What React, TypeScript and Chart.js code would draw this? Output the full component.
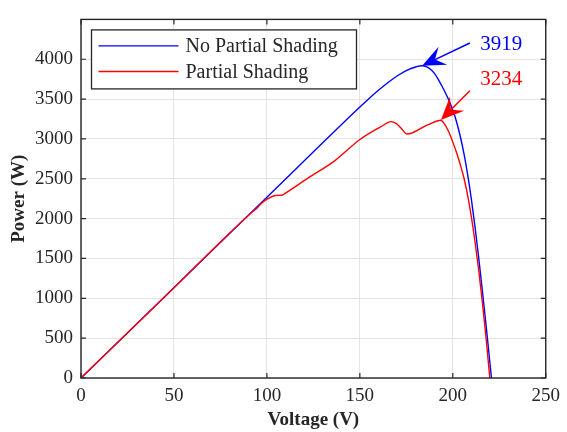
import React, { useEffect, useRef } from 'react';
import { Chart, registerables } from 'chart.js';

Chart.register(...registerables);

// ---- data ----
const seriesLabels = ['No Partial Shading', 'Partial Shading'];
const seriesColors = ['#0000ff', '#ff0000'];

const noShadeV = [0, 50, 100, 150, 155, 160, 165, 170, 175, 180, 183.5, 186, 188, 190, 192, 194, 196, 198, 200, 202, 204, 206, 208, 210, 212, 214, 216, 218, 220.8];
const noShadeP = [0, 1134, 2268, 3400, 3508, 3610, 3705, 3790, 3858, 3903, 3919, 3905, 3875, 3825, 3755, 3670, 3580, 3480, 3362, 3216, 3034, 2815, 2551, 2241, 1886, 1494, 1075, 638, 0];

const shadeV = [0, 50, 90, 95, 97.4, 100.5, 104.5, 108.1, 110, 122.3, 136.6, 150, 161.5, 166.8, 169.5, 172.2, 175.4, 186.4, 193.6, 195, 196.5, 198, 200, 202, 204, 206, 208, 210, 212, 214, 216, 218, 219.9];
const shadeP = [0, 1134, 2040, 2140, 2198, 2250, 2291, 2293, 2320, 2511, 2728, 2993, 3156, 3217, 3196, 3135, 3062, 3176, 3234, 3205, 3150, 3080, 2960, 2830, 2680, 2510, 2290, 2020, 1700, 1340, 930, 480, 0];

const xTicks = [0, 50, 100, 150, 200, 250];
const yTicks = [0, 500, 1000, 1500, 2000, 2500, 3000, 3500, 4000];
const xRange = [0, 250];
const yRange = [0, 4500];

// peak annotations
const peakLabels = ['3919', '3234'];
const peakTipV = [183.5, 193.6];
const peakTipP = [3919, 3238];
const arrowTailV = [209.2, 209.2];
const arrowTailP = [4204, 3605];
const labelV = [214.7, 214.7];
const labelP = [4183, 3743];

const FONT = "'Liberation Serif', 'Times New Roman', serif";
const AXIS_COLOR = '#262626';

function drawArrow(ctx: CanvasRenderingContext2D, x0: number, y0: number, x1: number, y1: number, color: string) {
  const dx = x0 - x1;
  const dy = y0 - y1;
  const len = Math.hypot(dx, dy);
  const ux = dx / len;
  const uy = dy / len;
  const nx = -uy;
  const ny = ux;
  const L = 23;
  const W = 10;
  const notch = 0.62 * L;
  ctx.save();
  ctx.strokeStyle = color;
  ctx.fillStyle = color;
  ctx.lineWidth = 1.5;
  ctx.beginPath();
  ctx.moveTo(x0, y0);
  ctx.lineTo(x1 + ux * notch, y1 + uy * notch);
  ctx.stroke();
  ctx.beginPath();
  ctx.moveTo(x1, y1);
  ctx.lineTo(x1 + ux * L + nx * W, y1 + uy * L + ny * W);
  ctx.lineTo(x1 + ux * notch, y1 + uy * notch);
  ctx.lineTo(x1 + ux * L - nx * W, y1 + uy * L - ny * W);
  ctx.closePath();
  ctx.fill();
  ctx.restore();
}

const overlayPlugin = {
  id: 'overlay',
  afterDraw(chart: any) {
    const { ctx, chartArea } = chart;
    const xs = chart.scales.x;
    const ys = chart.scales.y;
    const { left, right, top, bottom } = chartArea;

    // frame
    ctx.save();
    ctx.strokeStyle = AXIS_COLOR;
    ctx.lineWidth = 1.4;
    ctx.strokeRect(left, top, right - left, bottom - top);
    // inward ticks
    const tl = 5;
    ctx.lineWidth = 1.2;
    ctx.beginPath();
    xTicks.forEach((v) => {
      const px = xs.getPixelForValue(v);
      ctx.moveTo(px, bottom);
      ctx.lineTo(px, bottom - tl);
      ctx.moveTo(px, top);
      ctx.lineTo(px, top + tl);
    });
    yTicks.forEach((v) => {
      const py = ys.getPixelForValue(v);
      ctx.moveTo(left, py);
      ctx.lineTo(left + tl, py);
      ctx.moveTo(right, py);
      ctx.lineTo(right - tl, py);
    });
    ctx.stroke();
    ctx.restore();

    // arrows & labels
    peakLabels.forEach((lab, i) => {
      const color = seriesColors[i];
      drawArrow(
        ctx,
        xs.getPixelForValue(arrowTailV[i]),
        ys.getPixelForValue(arrowTailP[i]),
        xs.getPixelForValue(peakTipV[i]),
        ys.getPixelForValue(peakTipP[i]),
        color
      );
      ctx.save();
      ctx.fillStyle = color;
      ctx.font = `21px ${FONT}`;
      ctx.textAlign = 'left';
      ctx.textBaseline = 'middle';
      ctx.fillText(lab, xs.getPixelForValue(labelV[i]), ys.getPixelForValue(labelP[i]));
      ctx.restore();
    });

    // legend
    const bx = left + 10.5;
    const by = top + 10.5;
    const bw = 265;
    const bh = 59;
    ctx.save();
    ctx.fillStyle = '#ffffff';
    ctx.fillRect(bx, by, bw, bh);
    ctx.strokeStyle = AXIS_COLOR;
    ctx.lineWidth = 1.3;
    ctx.strokeRect(bx, by, bw, bh);
    ctx.font = `20px ${FONT}`;
    ctx.textAlign = 'left';
    ctx.textBaseline = 'middle';
    chart.data.datasets.forEach((ds: any, i: number) => {
      const ly = by + 16 + i * 25.6;
      ctx.strokeStyle = ds.borderColor;
      ctx.lineWidth = 1.3;
      ctx.beginPath();
      ctx.moveTo(bx + 7, ly);
      ctx.lineTo(bx + 87, ly);
      ctx.stroke();
      ctx.fillStyle = AXIS_COLOR;
      ctx.fillText(ds.label, bx + 94, ly + 1);
    });
    ctx.restore();
  },
};

export default function App() {
  const ref = useRef<HTMLCanvasElement | null>(null);

  useEffect(() => {
    document.body.style.margin = '0';
    const canvas = ref.current;
    if (!canvas) return;
    const chart = new Chart(canvas, {
      type: 'scatter',
      data: {
        datasets: [
          {
            label: seriesLabels[0],
            data: noShadeV.map((v, i) => ({ x: v, y: noShadeP[i] })),
            borderColor: seriesColors[0],
            backgroundColor: seriesColors[0],
            showLine: true,
            pointRadius: 0,
            borderWidth: 1.4,
            cubicInterpolationMode: 'monotone',
            order: 1,
          },
          {
            label: seriesLabels[1],
            data: shadeV.map((v, i) => ({ x: v, y: shadeP[i] })),
            borderColor: seriesColors[1],
            backgroundColor: seriesColors[1],
            showLine: true,
            pointRadius: 0,
            borderWidth: 1.4,
            cubicInterpolationMode: 'monotone',
            order: 0,
          },
        ],
      },
      options: {
        responsive: false,
        animation: false,
        layout: { padding: { top: 11, right: 18, left: 0, bottom: 0 } },
        plugins: {
          legend: { display: false },
          tooltip: { enabled: false },
        },
        scales: {
          x: {
            type: 'linear',
            min: xRange[0],
            max: xRange[1],
            afterBuildTicks: (scale: any) => {
              scale.ticks = xTicks.map((v) => ({ value: v }));
            },
            afterFit: (scale: any) => {
              scale.height = 54;
            },
            grid: { color: '#e3e3e3', lineWidth: 1, drawTicks: false },
            border: { display: false },
            ticks: {
              padding: 7,
              color: AXIS_COLOR,
              font: { family: FONT, size: 19 },
              maxRotation: 0,
              callback: (v: any) => String(v),
            },
            title: {
              display: true,
              text: 'Voltage (V)',
              color: AXIS_COLOR,
              font: { family: FONT, size: 19, weight: 'bold' },
              padding: { top: 0, bottom: 1 },
            },
          },
          y: {
            type: 'linear',
            min: yRange[0],
            max: yRange[1],
            afterBuildTicks: (scale: any) => {
              scale.ticks = yTicks.map((v) => ({ value: v }));
            },
            afterFit: (scale: any) => {
              scale.width = 81;
            },
            grid: { color: '#e3e3e3', lineWidth: 1, drawTicks: false },
            border: { display: false },
            ticks: {
              padding: 8,
              color: AXIS_COLOR,
              font: { family: FONT, size: 19 },
              callback: (v: any) => String(v),
            },
            title: {
              display: true,
              text: 'Power (W)',
              color: AXIS_COLOR,
              font: { family: FONT, size: 19, weight: 'bold' },
              padding: { top: 8, bottom: 0 },
            },
          },
        },
      },
      plugins: [overlayPlugin],
    } as any);
    return () => chart.destroy();
  }, []);

  return (
    <div style={{ width: 567, height: 432, background: '#fff' }}>
      <canvas ref={ref} width={567} height={432} style={{ display: 'block' }} />
    </div>
  );
}
